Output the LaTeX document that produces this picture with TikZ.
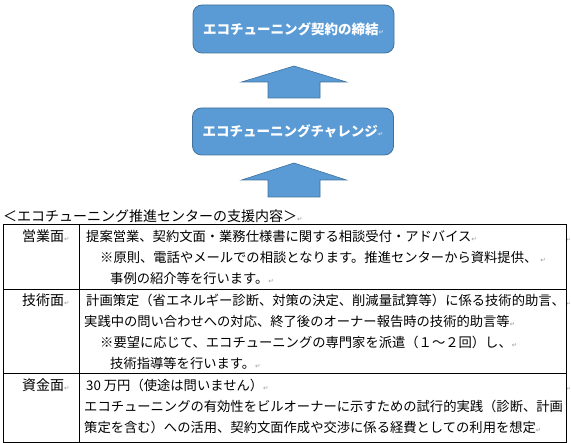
\documentclass[tikz,border=0pt]{standalone}
\usepackage{fontspec}
\setmainfont{Noto Sans CJK JP}
\newfontfamily\symfont{DejaVu Sans}
\definecolor{boxblue}{HTML}{5B9BD5}
\definecolor{boxedge}{HTML}{41719C}
\definecolor{markgray}{HTML}{9A9A9A}
\newcommand{\pmark}{{\symfont\fontsize{6.5}{6.5}\selectfont\color{markgray}↵}}
\newcommand{\pmarks}{{\symfont\fontsize{5}{5}\selectfont\color{markgray}↵}}
\newcommand{\pmarkw}{{\symfont\fontsize{6.5}{6.5}\selectfont\color{boxblue!40!white}↵}}
\newcommand{\blockarrow}[3]{% tip y, head base y, bottom y
  \fill[boxblue, draw=boxedge, line width=0.6pt]
    (268,#3) -- (268,#2) -- (241.5,#2) -- (294,#1) -- (346.5,#2)
    -- (320,#2) -- (320,#3) -- cycle;}
\begin{document}
\begin{tikzpicture}[x=1pt, y=-1pt,
  flowbox/.style={draw=boxedge, fill=boxblue, rounded corners=9pt, line width=0.8pt,
    minimum width=201pt, inner sep=0pt, text=white,
    font=\fontsize{13.5}{14}\selectfont\bfseries},
  cell/.style={anchor=west, inner sep=0pt, text height=11.5pt, text depth=2pt,
    font=\fontsize{13.3}{14}\selectfont},
  label/.style={cell, font=\fontsize{14}{14}\selectfont},
  rule/.style={line width=0.8pt, black}]
\useasboundingbox (0,0) rectangle (571,443);

% flow boxes
\node[flowbox, minimum height=48pt] (b1) at (293.5,29) {エコチューニング契約の締結\pmarkw};
\node[flowbox, minimum height=47pt] (b2) at (293,131.5) {エコチューニングチャレンジ\pmarkw};
\blockarrow{66}{82}{98}
\blockarrow{163}{180}{197}

% title
\node[label, anchor=west] (title) at (3,217) {＜エコチューニング推進センターの支援内容＞\pmark};

% table
\draw[rule] (3,224) rectangle (566,442);
\draw[rule] (3,289) -- (566,289);
\draw[rule] (3,373) -- (566,373);
\draw[rule] (79,224) -- (79,442);

% labels
\node[label] (l1) at (22,237) {営業面\pmark};
\node[label] (l2) at (22,301) {技術面\pmark};
\node[label] (l3) at (22,386) {資金面\pmark};

% row 1
\node[cell] (r1a) at (86,237) {提案営業、契約文面・業務仕様書に関する相談受付・アドバイス\pmark};
\node[cell] (r1b) at (100,258) {※原則、電話やメールでの相談となります。推進センターから資料提供、 \pmark};
\node[cell] (r1c) at (110,279) {事例の紹介等を行います。\pmark};
% row 2
\node[cell] (r2a) at (86,301) {計画策定（省エネルギー診断、対策の決定、削減量試算等）に係る技術的助言、};
\node[cell] (r2b) at (84,322) {実践中の問い合わせへの対応、終了後のオーナー報告時の技術的助言等\pmark};
\node[cell] (r2c) at (100,343) {※要望に応じて、エコチューニングの専門家を派遣（１～２回）し、\pmark};
\node[cell] (r2d) at (110,364) {技術指導等を行います。\pmark};
% row 3
\node[cell] (r3a) at (86,386) {30 万円（使途は問いません）\pmark};
\node[cell] (r3b) at (84,407) {エコチューニングの有効性をビルオーナーに示すための試行的実践（診断、計画};
\node[cell] (r3c) at (84,428) {策定を含む）への活用、契約文面作成や交渉に係る経費としての利用を想定\pmark};

% row-end marks
\node[cell] (e1) at (566.6,237) {\pmarks};
\node[cell] (e2) at (566.6,301) {\pmarks};
\node[cell] (e3) at (566.6,386) {\pmarks};
\end{tikzpicture}
\end{document}
